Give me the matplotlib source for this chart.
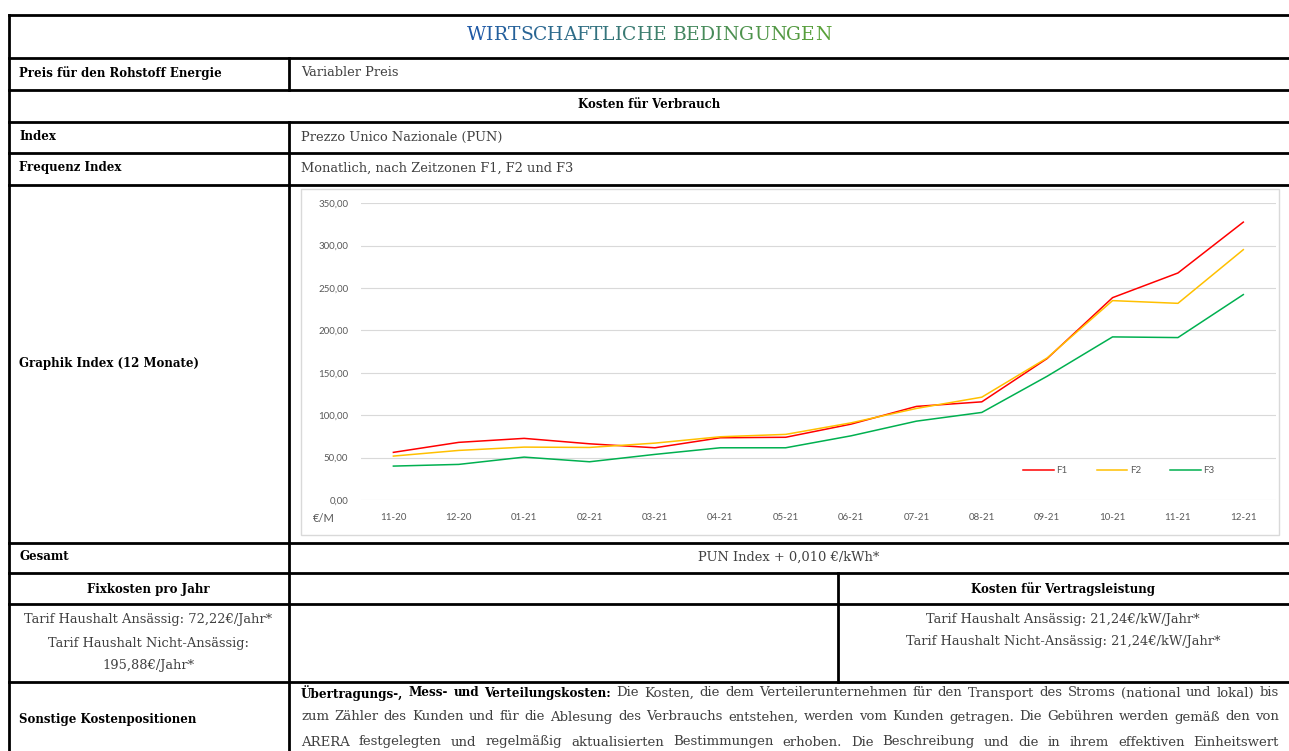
import matplotlib
matplotlib.use("Agg")
import matplotlib.pyplot as plt
from matplotlib import font_manager
from matplotlib.lines import Line2D
from matplotlib.patches import Rectangle
from matplotlib.ticker import FuncFormatter

# ---------------- data ----------------
months = ["11-20", "12-20", "01-21", "02-21", "03-21", "04-21", "05-21",
          "06-21", "07-21", "08-21", "09-21", "10-21", "11-21", "12-21"]
f1 = [56.2, 68.0, 72.7, 66.3, 61.6, 73.4, 74.0, 89.5, 110.4, 115.8, 166.9, 238.7, 267.8, 327.8]
f2 = [51.8, 58.5, 62.4, 62.0, 67.1, 74.6, 77.4, 91.0, 108.0, 121.3, 167.6, 235.2, 232.0, 295.3]
f3 = [40.0, 42.0, 50.6, 45.1, 53.8, 61.6, 61.6, 75.7, 93.0, 103.3, 146.0, 192.4, 191.6, 242.3]
series_names = ["F1", "F2", "F3"]
series_colors = ["#FF0000", "#FFC000", "#00B050"]
y_ticks = [0, 50, 100, 150, 200, 250, 300, 350]

title = "WIRTSCHAFTLICHE BEDINGUNGEN"
para_lines = [
    [("Übertragungs-, Mess- und Verteilungskosten:", True),
     ("Die Kosten, die dem Verteilerunternehmen für den Transport des Stroms (national und lokal) bis", False)],
    [("zum Zähler des Kunden und für die Ablesung des Verbrauchs entstehen, werden vom Kunden getragen. Die Gebühren werden gemäß den von", False)],
    [("ARERA festgelegten und regelmäßig aktualisierten Bestimmungen erhoben. Die Beschreibung und die in ihrem effektiven Einheitswert", False)],
]

# ---------------- figure ----------------
W, H = 1289, 751
fig = plt.figure(figsize=(W / 100, H / 100), dpi=100)
fig.patch.set_facecolor("white")
bg = fig.add_axes([0, 0, 1, 1])
bg.set_xlim(0, W)
bg.set_ylim(H, 0)
bg.axis("off")
R = fig.canvas.get_renderer()

names = {f.name for f in font_manager.fontManager.ttflist}
SERIF = ["DejaVu Serif"] if "DejaVu Serif" in names else ["Liberation Serif"]
GRAY = "#404040"


def text_w(s, size, weight="normal"):
    t = bg.text(0, 0, s, fontsize=size, fontweight=weight, family=SERIF)
    w = t.get_window_extent(R).width
    t.remove()
    return w


def fit_size(s, target, weight="normal"):
    return 10 * target / text_w(s, 10, weight)


BODY = fit_size("Tarif Haushalt Ansässig: 72,22€/Jahr*", 249)
BOLD = fit_size("Preis für den Rohstoff Energie", 203, "bold")
TITLE = fit_size(title, 364)
# paragraph size: words of line 2 plus normal spaces (~5 px) fill the cell
l2 = para_lines[1][0][0].split(" ")
PARA = 10 * (978 - 5 * (len(l2) - 1)) / sum(text_w(w, 10) for w in l2)
PARA_B = BOLD * PARA / BODY

# ---------------- table lines ----------------
LW = 2.0
def hline(y, x0=8.5, x1=W):
    bg.add_line(Line2D([x0, x1], [y, y], color="black", lw=LW, solid_capstyle="projecting"))

def vline(x, y0, y1):
    bg.add_line(Line2D([x, x], [y0, y1], color="black", lw=LW, solid_capstyle="projecting"))

for y in [14.5, 58, 89.5, 121.5, 152.5, 184.5, 542.5, 573, 604, 682]:
    hline(y)
vline(8.5, 14.5, H + 5)
vline(288.5, 58, 89.5)
vline(288.5, 121.5, H + 5)
vline(837.5, 573, 682)

# ---------------- title with gradient ----------------
c0 = (0.12, 0.35, 0.65)
c1 = (0.35, 0.63, 0.22)
widths = []
arts = []
for ch in title:
    t = bg.text(0, 35, ch, fontsize=TITLE, family=SERIF, va="center", ha="left")
    arts.append(t)
    widths.append(t.get_window_extent(R).width if ch != " " else None)
sw = text_w("a a", TITLE) - text_w("aa", TITLE)
widths = [w if w is not None else sw for w in widths]
total = sum(widths)
x = 649 - total / 2
n = len(title)
for i, (t, w) in enumerate(zip(arts, widths)):
    f = i / (n - 1)
    t.set_color(tuple(c0[k] + (c1[k] - c0[k]) * f for k in range(3)))
    t.set_x(x)
    x += w

# ---------------- table text ----------------
def label(x, y, s, bold=True, ha="left", color=None):
    bg.text(x, y, s, fontsize=BOLD if bold else BODY, fontweight="bold" if bold else "normal",
            family=SERIF, va="center", ha=ha,
            color=color if color else ("black" if bold else GRAY))

label(19, 73, "Preis für den Rohstoff Energie")
label(301, 73, "Variabler Preis", bold=False)
label(649, 105, "Kosten für Verbrauch", ha="center")
label(19, 137, "Index")
label(301, 137, "Prezzo Unico Nazionale (PUN)", bold=False)
label(19, 168, "Frequenz Index")
label(301, 168, "Monatlich, nach Zeitzonen F1, F2 und F3", bold=False)
label(19, 363, "Graphik Index (12 Monate)")
label(19, 557, "Gesamt")
label(789, 557, "PUN Index + 0,010 €/kWh*", bold=False, ha="center")
label(148, 589, "Fixkosten pro Jahr", ha="center")
label(1063, 589, "Kosten für Vertragsleistung", ha="center")
label(148, 619, "Tarif Haushalt Ansässig: 72,22€/Jahr*", bold=False, ha="center")
label(148, 643, "Tarif Haushalt Nicht-Ansässig:", bold=False, ha="center")
label(148, 666, "195,88€/Jahr*", bold=False, ha="center")
label(1063, 619, "Tarif Haushalt Ansässig: 21,24€/kW/Jahr*", bold=False, ha="center")
label(1063, 642, "Tarif Haushalt Nicht-Ansässig: 21,24€/kW/Jahr*", bold=False, ha="center")
label(19, 719, "Sonstige Kostenpositionen")

# justified paragraph
X0, X1 = 301, 1279
for y, segs in zip([693, 717, 742], para_lines):
    words = []
    for s, b in segs:
        for w in s.split(" "):
            words.append((w, b))
    ts, ws = [], []
    for w, b in words:
        t = bg.text(0, y, w, fontsize=PARA_B if b else PARA, fontweight="bold" if b else "normal",
                    family=SERIF, va="center", ha="left", color="black" if b else GRAY)
        ts.append(t)
        ws.append(t.get_window_extent(R).width)
    gap = (X1 - X0 - sum(ws)) / (len(ws) - 1)
    x = X0
    for t, w in zip(ts, ws):
        t.set_x(x)
        x += w + gap

# ---------------- chart ----------------
bg.add_patch(Rectangle((301, 189), 978, 346, fill=False, edgecolor="#d9d9d9", lw=1.0))

ax = fig.add_axes([360.7 / W, (H - 500) / H, 915.3 / W, 296.7 / H])
ax.set_facecolor("none")
xs = list(range(len(months)))
for vals, name, col in zip([f1, f2, f3], series_names, series_colors):
    ax.plot(xs, vals, color=col, lw=1.1, label=name)
ax.set_xlim(-0.5, len(months) - 0.5)
ax.set_ylim(0, 350)
ax.set_yticks(y_ticks)
ax.yaxis.set_major_formatter(FuncFormatter(lambda v, p: f"{v:.2f}".replace(".", ",")))
ax.set_xticks(xs)
ax.set_xticklabels(months)
ax.grid(axis="y", color="#d9d9d9", lw=0.8)
ax.set_axisbelow(True)
for s in ax.spines.values():
    s.set_visible(False)
ax.tick_params(length=0, labelsize=7, labelcolor="#595959")
ax.tick_params(axis="x", pad=9)
ax.tick_params(axis="y", pad=9)
for lab in ax.get_xticklabels() + ax.get_yticklabels():
    lab.set_family("Lato")
ax.legend(loc="center", bbox_to_anchor=(0.8285, 0.0988), ncol=3, frameon=False,
          handlelength=3.1, columnspacing=3.0, handletextpad=0.3,
          prop={"family": "Lato", "size": 7}, labelcolor="#595959")
bg.text(313, 518, "€/M", fontsize=8, family="Lato", color="#595959", va="center", ha="left")

fig.savefig("out.png", dpi=100, facecolor="white")
